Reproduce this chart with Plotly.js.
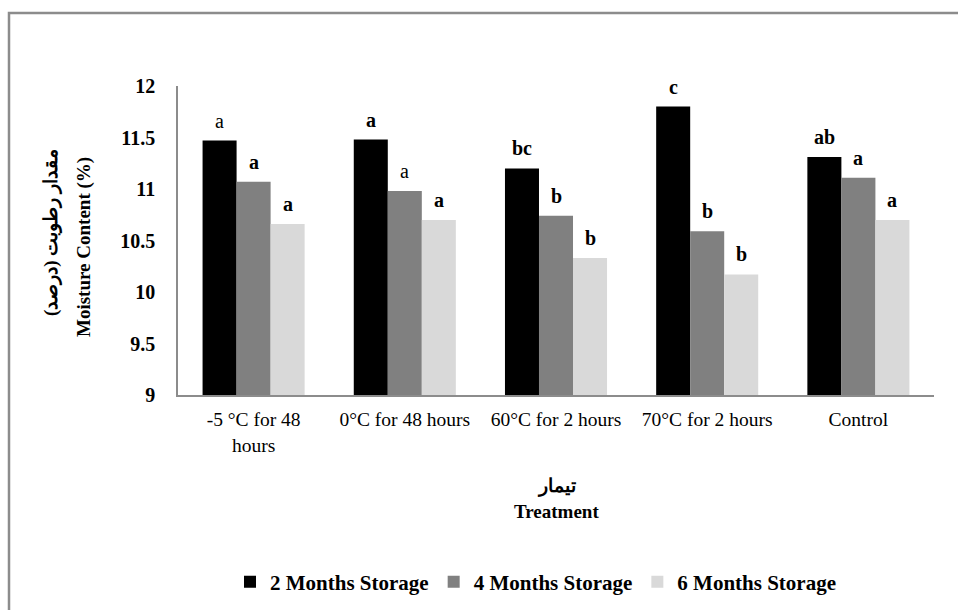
<!DOCTYPE html>
<html>
<head>
<meta charset="utf-8">
<script src="https://cdn.plot.ly/plotly-3.0.1.min.js"></script>
<style>
  html, body { margin: 0; padding: 0; background: #fff; }
  #chart { width: 958px; height: 610px; }
</style>
</head>
<body>
<div id="chart"></div>
<script>
// ---- data ----
const categories = ['-5 °C for 48<br>hours', '0°C for 48 hours', '60°C for 2 hours', '70°C for 2 hours', 'Control'];
const seriesNames = ['2 Months Storage', '4 Months Storage', '6 Months Storage'];
const months2 = [11.47, 11.48, 11.20, 11.80, 11.31];
const months4 = [11.07, 10.98, 10.74, 10.59, 11.11];
const months6 = [10.66, 10.70, 10.33, 10.17, 10.70];
const letters2 = ['a', 'a', 'bc', 'c', 'ab'];
const letters4 = ['a', 'a', 'b', 'b', 'a'];
const letters6 = ['a', 'a', 'b', 'b', 'a'];
const bold2 = [false, true, true, true, true];
const bold4 = [true, false, true, true, true];
const bold6 = [true, true, true, true, true];
const yTitleFa = 'مقدار رطوبت (درصد)';
const yTitleEn = 'Moisture Content (%)';
const xTitleFa = 'تیمار';
const xTitleEn = 'Treatment';

// ---- style ----
const colors = ['#000000', '#808080', '#d9d9d9'];
const serif = '"Liberation Serif", "Times New Roman", serif';
const W = 958, H = 610;
const margin = {l: 178, r: 24, t: 86, b: 215, autoexpand: false};
const bargap = 0.325;
const plotW = W - margin.l - margin.r;
const plotH = H - margin.t - margin.b;
const barW = plotW / categories.length * (1 - bargap) / 3;
const px2paperX = px => (px - margin.l) / plotW;
const px2paperY = py => (H - margin.b - py) / plotH;

const values = [months2, months4, months6];
const letters = [letters2, letters4, letters6];
const bolds = [bold2, bold4, bold6];

const traces = values.map((v, i) => ({
  type: 'bar',
  name: seriesNames[i],
  x: categories,
  y: v,
  marker: {color: colors[i], line: {width: 0}},
  hoverinfo: 'x+y+name'
}));

const annotations = [];
values.forEach((v, i) => {
  v.forEach((val, j) => {
    const t = letters[i][j];
    annotations.push({
      x: categories[j], y: val, xref: 'x', yref: 'y',
      xshift: (i - 1) * barW, yshift: 20,
      text: bolds[i][j] ? '<b>' + t + '</b>' : t,
      showarrow: false, xanchor: 'center', yanchor: 'middle',
      font: {family: serif, size: 20, color: '#000'}
    });
  });
});

// y-axis title (two rotated lines)
[[yTitleFa, 51, 233], [yTitleEn, 84, 247]].forEach(([txt, cx, cy]) => {
  annotations.push({
    xref: 'paper', yref: 'paper',
    x: px2paperX(cx), y: px2paperY(cy),
    xanchor: 'center', yanchor: 'middle',
    textangle: -90, showarrow: false,
    text: '<b>' + txt + '</b>',
    font: {family: serif, size: 19, color: '#000'}
  });
});
// x-axis title (two lines)
[[xTitleFa, 486], [xTitleEn, 511]].forEach(([txt, cy]) => {
  annotations.push({
    xref: 'paper', yref: 'paper',
    x: 0.5, y: px2paperY(cy),
    xanchor: 'center', yanchor: 'middle',
    showarrow: false,
    text: '<b>' + txt + '</b>',
    font: {family: serif, size: 19, color: '#000'}
  });
});

const layout = {
  width: W, height: H,
  margin: margin,
  paper_bgcolor: '#ffffff',
  plot_bgcolor: '#ffffff',
  barmode: 'group',
  bargap: bargap,
  bargroupgap: 0,
  showlegend: true,
  legend: {
    orientation: 'h',
    x: px2paperX(536), xanchor: 'center',
    y: px2paperY(582), yanchor: 'middle',
    font: {family: serif, size: 21, color: '#000', weight: 'bold'},
    itemwidth: 30,
    traceorder: 'normal'
  },
  xaxis: {
    type: 'category',
    showline: true, linecolor: '#8c8c8c', linewidth: 2,
    showgrid: false, zeroline: false,
    ticks: '', ticklabelstandoff: 6,
    tickfont: {family: serif, size: 19.5, color: '#000'}
  },
  yaxis: {
    range: [9, 12], dtick: 0.5, tick0: 9,
    showline: true, linecolor: '#8c8c8c', linewidth: 1.5,
    showgrid: false, zeroline: false,
    ticks: '', ticklabelstandoff: 17,
    tickfont: {family: serif, size: 20, color: '#000', weight: 'bold'}
  },
  annotations: annotations,
  shapes: [{
    type: 'rect', xref: 'paper', yref: 'paper', layer: 'below',
    x0: px2paperX(9), x1: 1.2,
    y0: -1.0, y1: px2paperY(13),
    line: {color: '#8c8c8c', width: 2.5}, fillcolor: 'rgba(0,0,0,0)'
  }]
};

Plotly.newPlot('chart', traces, layout, {displayModeBar: false, responsive: false});
</script>
</body>
</html>
